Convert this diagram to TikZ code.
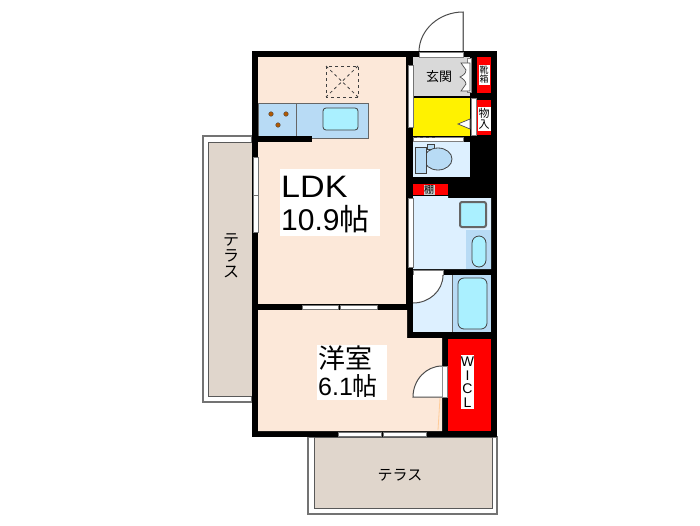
\documentclass[tikz,border=0pt]{standalone}
\usepackage{fontspec}
\setmainfont{Liberation Sans}
\newfontfamily\widefont[FakeStretch=1.1]{Liberation Sans}
\newfontfamily\jpfont{Noto Sans CJK JP}
\usetikzlibrary{positioning}

\begin{document}
\begin{tikzpicture}[x=1pt, y=-1pt,
    room/.style={fill=#1, draw=none},
    fixture/.style={fill=#1, draw=black!75, line width=0.8pt},
    closet/.style={fill=red, draw=none},
    window/.style={fill=white, draw=black!55, line width=1pt},
    doorleaf/.style={fill=white, draw=black!70, line width=1pt},
    terrace/.style={fill=terracecol, draw=black!65, line width=0.8pt},
    smalllabel/.style={fill=white, inner sep=1pt, align=center, font=\jpfont\fontsize{#1}{#1}\selectfont}
]
\definecolor{terracecol}{HTML}{E0D6CC}
\definecolor{floorcol}{HTML}{FCE8D9}
\definecolor{kitchencol}{HTML}{B8DBF5}
\definecolor{sinkcol}{HTML}{AAF0FF}
\definecolor{washcol}{HTML}{DDF0FF}
\useasboundingbox (0,0) rectangle (700,525);

% Terraces
\draw[fill=white, draw=black!55, line width=1.4pt] (203,136) rectangle (252,402);
\draw[terrace] (208,142) rectangle (252,396);
\draw[fill=white, draw=black!55, line width=1.4pt] (308,437) rectangle (497,514);
\draw[terrace] (314,437) rectangle (492,508);

% Entrance door
\draw[doorleaf] (419,52) .. controls (419,30) and (439,12) .. (463,12) -- (463,52);
\draw[black!60, line width=1pt] (463,12) -- (463,52);

% Walls
\fill[black] (252,51) rectangle (497,437);

% LDK and western room
\fill[room=floorcol] (258,57) rectangle (406,304);
\fill[room=floorcol] (258,310) -- (407,310) -- (407,338) -- (442,338) -- (442,431) -- (258,431) -- cycle;
\draw[orange!40, line width=0.8pt] (440,398) -- (438,430);

% Kitchen
\draw[fixture=kitchencol, draw=black!60] (258,103) rectangle (368,138);
\draw[black!60, line width=0.7pt] (296,103) -- (296,136);
\draw[fixture=sinkcol, rounded corners=3pt] (323,108) rectangle (358,130);
\foreach \bx/\by in {271/114, 286/114, 278/125}
    \draw[fill=orange!70!black, draw=black!70, line width=0.4pt] (\bx,\by) circle (2.3);
\fill[black] (252,136) rectangle (312,142);

% Ceiling hatch
\draw[black!75, dashed, line width=1pt] (326,66) rectangle (358,97);
\draw[black!75, dashed, line width=0.8pt] (326,66) -- (358,97);
\draw[black!75, dashed, line width=0.8pt] (358,66) -- (326,97);

% Entrance and storage
\fill[room=black!15] (413,57) rectangle (470,96);
\fill[room=yellow] (413,98) rectangle (470,136);
\draw[fill=white, draw=gray, line width=0.7pt] (419,52) rectangle (463,57);
\draw[fill=white, draw=gray, line width=0.7pt] (467,58) rectangle (471,92);
\draw[doorleaf, line width=0.7pt] (470,63) -- (461,63) -- (466,70) .. controls (466,74) and (462,76) .. (460,77) .. controls (462,78) and (466,81) .. (466,84) -- (461,91) -- (470,91) -- cycle;
\draw[fill=white, draw=gray, line width=0.7pt] (471,98) rectangle (476,135);
\draw[fill=white, draw=black!70, line width=0.7pt] (458,124) -- (470,119) -- (470,129) -- cycle;
\fill[closet] (477,57) rectangle (491,93);
\fill[closet] (477,100) rectangle (491,135);

% Window on the inner wall
\draw[window] (408,65) rectangle (413,127);

% Toilet
\fill[room=washcol] (413,142) rectangle (470,177);
\draw[fill=white, draw=gray, line width=0.7pt] (413,137) rectangle (463,141);
\draw[dashed, black!70, line width=0.8pt] (414,137.5) -- (437,137.5);
\draw[fixture=kitchencol] (427,144) rectangle (434,149);
\draw[fixture=kitchencol] (438,159) ellipse (14 and 11);
\draw[fixture=kitchencol] (415,147) rectangle (426,173);

% Wash room
\fill[room=red] (413,184) rectangle (448,195);
\fill[room=washcol] (413,196) -- (448,196) -- (448,198) -- (491,198) -- (491,269) -- (413,269) -- cycle;
\draw[window] (408,198) rectangle (413,267);
\draw[dashed, white, line width=1.2pt] (410.5,235) -- (410.5,266);
\draw[fill=sinkcol, draw=black!60, line width=2pt, rounded corners=2pt] (460,202) rectangle (486,227);
\fill[room=kitchencol] (466,230) rectangle (491,269);
\draw[fixture=sinkcol, rounded corners=7pt] (472,236) rectangle (486,267);

% Bath
\fill[room=washcol] (413,275) rectangle (452,332);
\fill[room=kitchencol] (452,275) rectangle (491,332);
\draw[black!60, line width=0.7pt] (452,275) -- (452,332);
\draw[fixture=sinkcol, rounded corners=6pt] (458,278) rectangle (487,329);
\draw[fill=white, draw=gray, line width=0.7pt] (413,270) rectangle (443,275);
\fill[white] (413,275) -- (443,275) .. controls (443,291) and (429,303) .. (413,303) -- cycle;
\draw[black!70, line width=1pt] (443,275) .. controls (443,291) and (429,303) .. (413,303);

% Walk-in closet
\fill[closet] (448,339) rectangle (491,431);
\draw[fill=white, draw=gray, line width=0.7pt] (442,366) rectangle (447,397);
\draw[doorleaf] (442,397) -- (413,397) .. controls (413,380) and (426,366) .. (442,366);

% Exterior windows
\draw[window] (253,157) rectangle (258,195);
\draw[window] (253,195) rectangle (258,232);
\draw[window] (302,305) rectangle (338,309);
\draw[window] (340,305) rectangle (377,309);
\draw[window] (338,432) rectangle (381,436);
\draw[window] (383,432) rectangle (426,436);

% Labels
\node[fill=white, minimum width=100pt, minimum height=67pt, inner sep=0pt] (ldkbg) at (330,202.5) {};
\node[anchor=west, font=\widefont\fontsize{31}{34}\selectfont, inner sep=0pt] (ldk) at (281,187) {LDK};
\node[right=0pt of ldk.west, anchor=west, yshift=-32pt, font=\fontsize{30}{32}\selectfont, inner sep=0pt] (ldkarea) {10.9{\jpfont 帖}};
\node[fill=white, minimum width=70pt, minimum height=55pt, inner sep=0pt] (westbg) at (352,372.5) {};
\node[anchor=west, font=\jpfont\fontsize{27}{28}\selectfont, inner sep=0pt] (west) at (318,358) {洋室};
\node[right=0pt of west.west, anchor=west, yshift=-28pt, font=\fontsize{25}{28}\selectfont, inner sep=0pt] (westarea) {6.1{\jpfont 帖}};
\node[smalllabel=13, fill=none] (gatelabel) at (439,77) {玄関};
\node[smalllabel=9] (shoelabel) at (484,75) {靴\\箱};
\node[smalllabel=11] (storelabel) at (484,119) {物\\入};
\node[smalllabel=10, fill=gray!40, inner sep=0.5pt] (shelflabel) at (429,190) {棚};
\node[fill=white, minimum width=13pt, minimum height=54pt, inner sep=0pt, align=center, font=\fontsize{14}{13.5}\selectfont] (wicl) at (467.5,382) {W\\I\\C\\L};
\node[smalllabel=16, fill=none] (terraceleft) at (231,256) {テ\\ラ\\ス};
\node[smalllabel=15, fill=none] (terracebottom) at (400,475) {テラス};

\end{tikzpicture}
\end{document}
